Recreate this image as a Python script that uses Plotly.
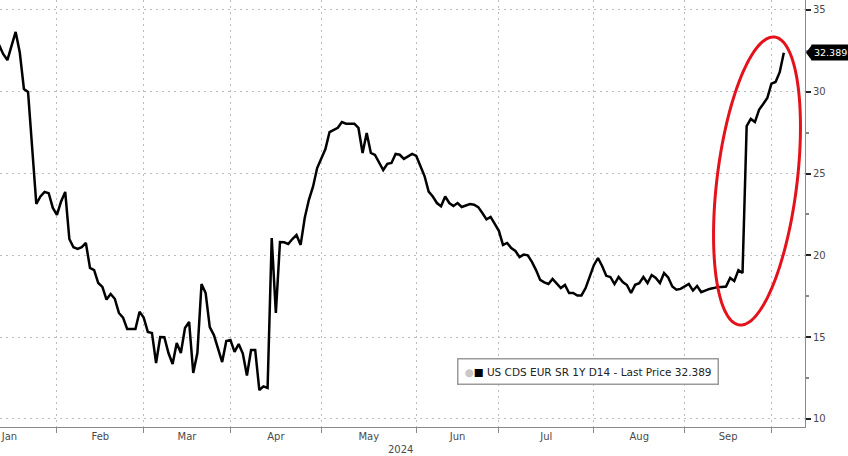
import numpy as np
import pandas as pd
import plotly.graph_objects as go

# ---------------- data ----------------
start_date = "2024-01-11"
end_date = "2024-10-04"
series_name = "US CDS EUR SR 1Y D14"

cds_values = [
    # Jan 11 - Jan 31
    33.3, 32.86, 32.3, 31.94, 32.8, 33.66, 32.4, 30.17, 29.99, 26.5, 23.14, 23.6, 23.88, 23.8, 22.9,
    # Feb
    22.47, 23.3, 23.88, 21.0, 20.5, 20.4, 20.5, 20.76, 19.23, 19.1, 18.31, 18.07, 17.3, 17.64, 17.35,
    16.48, 16.2, 15.5, 15.5, 15.5, 16.55,
    # Mar
    16.2, 15.32, 15.26, 13.42, 15.01, 15.0, 14.03, 13.36, 14.65, 14.03, 15.56, 15.93, 12.81, 14.03,
    18.25, 17.7, 15.62, 15.13, 14.3, 13.48, 14.77,
    # Apr
    14.83, 14.1, 14.58, 14.0, 12.66, 14.22, 14.22, 11.77, 11.99, 11.9, 21.06, 16.48, 20.82, 20.8,
    20.7, 21.0, 21.25, 20.64, 22.3, 23.4, 24.2, 25.34,
    # May
    25.9, 26.5, 27.54, 27.65, 27.8, 28.15, 28.05, 28.05, 28.05, 27.79, 26.26, 27.48, 26.26, 26.14,
    25.7, 25.22, 25.6, 25.65, 26.2, 26.15, 25.9, 26.05, 26.2,
    # Jun
    26.08, 25.4, 24.85, 23.9, 23.6, 23.2, 23.0, 23.6, 23.2, 23.02, 23.2, 22.96, 23.05, 23.14, 23.1,
    22.95, 22.59, 22.2, 22.35, 21.9,
    # Jul
    21.5, 20.64, 20.76, 20.45, 20.27, 19.9, 20.05, 20.0, 19.6, 19.1, 18.5, 18.35, 18.25, 18.56,
    18.25, 18.0, 18.19, 17.7, 17.7, 17.55, 17.55, 18.0, 18.7,
    # Aug
    19.4, 19.84, 19.35, 18.75, 18.68, 18.25, 18.68, 18.37, 18.19, 17.7, 18.2, 18.3, 18.68, 18.31,
    18.8, 18.62, 18.31, 18.92, 18.65, 18.1, 17.9, 17.95,
    # Sep
    18.1, 18.25, 17.85, 18.13, 17.75, 17.85, 17.95, 18.0, 18.07, 18.07, 18.1, 18.62, 18.43, 19.1,
    18.92, 27.9, 28.34, 28.15, 28.9, 29.25, 29.62,
    # Oct
    30.5, 30.6, 31.2, 32.389,
]

# month labels sit in the middle of each month
month_label_dates = ["2024-01-16 12:00", "2024-02-15 12:00", "2024-03-15 12:00", "2024-04-16",
                     "2024-05-16 12:00", "2024-06-17", "2024-07-16 12:00", "2024-08-16",
                     "2024-09-16 12:00"]
month_labels = ["Jan", "Feb", "Mar", "Apr", "May", "Jun", "Jul", "Aug", "Sep"]
y_tick_values = [10, 15, 20, 25, 30, 35]
year_label = "2024"

dates = pd.bdate_range(start_date, end_date)
assert len(dates) == len(cds_values)
last_price = cds_values[-1]
month_starts = pd.date_range("2024-02-01", "2024-10-01", freq="BMS")

# ---------------- figure ----------------
W, H = 848, 456
ML, MR, MT, MB = 0, 43, 0, 29
PW, PH = W - ML - MR, H - MT - MB

fig = go.Figure()
fig.add_trace(go.Scatter(
    x=dates, y=cds_values, mode="lines",
    line=dict(color="black", width=2.5),
    showlegend=False, hoverinfo="skip",
))

grid_color = "#bdbdbd"
grid_dash = "2px,4px"
tick_font = dict(family="DejaVu Sans", size=10, color="#4a4a4a")

fig.update_xaxes(
    type="date", automargin=False,
    range=["2024-01-12 05:00", "2024-10-11 03:00"],
    rangebreaks=[dict(bounds=["sat", "mon"])],
    tickmode="array", tickvals=month_label_dates, ticktext=month_labels,
    ticks="", showgrid=False,
    minor=dict(tickmode="array", tickvals=list(month_starts), ticks="outside", ticklen=5,
               tickcolor="#8a8a8a", showgrid=True, gridcolor=grid_color,
               griddash=grid_dash, gridwidth=1),
    showline=True, linecolor="#8a8a8a", linewidth=1,
    tickfont=tick_font, zeroline=False,
)
fig.update_yaxes(
    side="right", automargin=False,
    range=[9.51, 35.61],
    tickvals=y_tick_values,
    showgrid=True, gridcolor=grid_color, griddash=grid_dash, gridwidth=1,
    showline=True, linecolor="#8a8a8a", linewidth=1,
    ticks="outside", ticklen=5, tickwidth=2, tickcolor="#222",
    minor=dict(dtick=2.5, tick0=10, ticks="outside", ticklen=3, tickcolor="#888", showgrid=False),
    tickfont=tick_font, zeroline=False,
)

# red ellipse highlight (paper coordinates, tilted)
cx, cy, a, b = 757, 181, 145, 40
theta = np.deg2rad(7)
t = np.linspace(0, 2 * np.pi, 160)
px = cx + a * np.cos(t) * np.sin(theta) + b * np.sin(t) * np.cos(theta)
py = cy - a * np.cos(t) * np.cos(theta) + b * np.sin(t) * np.sin(theta)
xp = (px - ML) / PW
yp = 1 - (py - MT) / PH
path = "M " + " L ".join(f"{x:.5f},{y:.5f}" for x, y in zip(xp, yp)) + " Z"
fig.add_shape(type="path", path=path, xref="paper", yref="paper",
              line=dict(color="#e3121b", width=3), layer="above")

# last-price tag
fig.add_shape(type="path", xref="paper", yref="y",
              path=f"M {1 + 1/PW:.5f},{last_price} L {1 + 7/PW:.5f},{last_price + 0.49} "
                   f"L {1 + 7/PW:.5f},{last_price - 0.49} Z",
              fillcolor="black", line=dict(width=0))
fig.add_annotation(
    x=1, xref="paper", y=last_price, yref="y",
    xanchor="left", xshift=6, yanchor="middle",
    text=f"{last_price:.3f}", showarrow=False,
    font=dict(family="DejaVu Sans", size=9.5, color="white"),
    bgcolor="black", borderpad=2,
)

# legend box
fig.add_annotation(
    x=588 / PW, xref="paper", y=1 - 371 / PH, yref="paper",
    xanchor="center", yanchor="middle", showarrow=False,
    text=f"<span style='color:#c8c8c8'>●</span><span style='color:black'>■</span> "
         f"{series_name} - Last Price {last_price:.3f}",
    font=dict(family="DejaVu Sans", size=10.5, color="#222"),
    bgcolor="white", bordercolor="#9a9a9a", borderwidth=1.5, borderpad=6,
)

# year label
fig.add_annotation(
    x=400 / PW, xref="paper", y=-(449 - MT - PH) / PH, yref="paper",
    xanchor="center", yanchor="middle", showarrow=False,
    text=year_label, font=tick_font,
)

fig.update_layout(
    width=W, height=H,
    margin=dict(l=ML, r=MR, t=MT, b=MB),
    plot_bgcolor="white", paper_bgcolor="white",
    showlegend=False,
)

fig.write_html(
    "out.html",
    config={"displayModeBar": False},
    post_script="document.body.style.margin='0';document.body.style.overflow='hidden';",
)
